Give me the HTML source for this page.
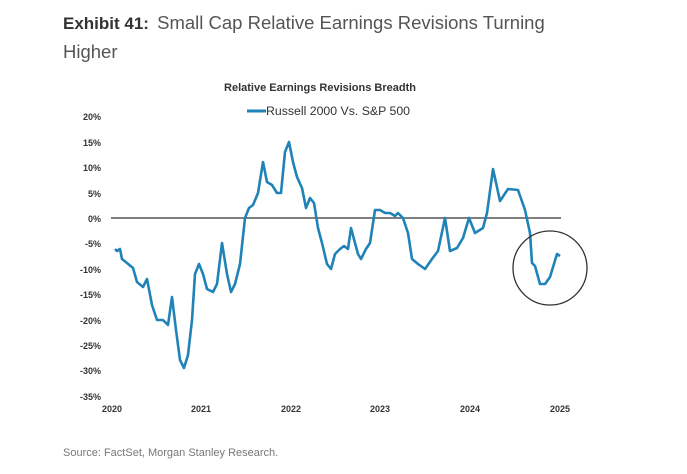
<!DOCTYPE html>
<html><head><style>
body{margin:0;width:687px;height:469px;background:#fff;font-family:"Liberation Sans",sans-serif;overflow:hidden}
</style></head><body>
<svg width="687" height="469" xmlns="http://www.w3.org/2000/svg" font-family="Liberation Sans, sans-serif">
<text x="63" y="29" font-size="17" fill="#333"><tspan font-weight="bold">Exhibit 41:</tspan><tspan fill="#555" font-size="18.5" dx="3"> Small Cap Relative Earnings Revisions Turning</tspan></text>
<text x="63" y="58" font-size="18.5" fill="#555">Higher</text>
<text x="320" y="91" font-size="11" font-weight="bold" fill="#333" text-anchor="middle">Relative Earnings Revisions Breadth</text>
<line x1="247" y1="111" x2="266" y2="111" stroke="#1f83b8" stroke-width="3"/>
<text x="266" y="115" font-size="12.3" fill="#333">Russell 2000 Vs. S&amp;P 500</text>
<g font-size="9" fill="#333" text-anchor="end" font-weight="bold">
<text x="101" y="120">20%</text><text x="101" y="146">15%</text><text x="101" y="171">10%</text><text x="101" y="197">5%</text><text x="101" y="222">0%</text><text x="101" y="247">-5%</text><text x="101" y="273">-10%</text><text x="101" y="298">-15%</text><text x="101" y="324">-20%</text><text x="101" y="349">-25%</text><text x="101" y="374">-30%</text><text x="101" y="400">-35%</text>
</g>
<g font-size="9" fill="#333" text-anchor="middle" font-weight="bold">
<text x="112" y="412">2020</text><text x="201" y="412">2021</text><text x="291" y="412">2022</text><text x="380" y="412">2023</text><text x="470" y="412">2024</text><text x="560" y="412">2025</text>
</g>
<line x1="111" y1="218" x2="561" y2="218" stroke="#555" stroke-width="1.5"/>
<polyline fill="none" stroke="#1f83b8" stroke-width="2.6" stroke-linejoin="round" points="115,249 117,251 120,249 122,259 127,263 133,268 137,282 143,287 147,279 152,305 157,320 163,320 168,325 172,297 176,330 180,360 184,368 188,355 192,320 195,274 199,264 203,274 207,289 213,292 217,284 222,243 227,274 231,292 235,284 240,264 245,218 249,208 253,205 258,193 263,162 267,182 272,185 277,193 281,193 285,152 289,142 293,162 297,177 302,188 306,208 310,198 314,203 318,228 322,243 327,264 331,269 335,254 340,249 344,246 348,249 351,228 355,243 358,254 361,259 366,249 370,243 375,210 380,210 385,213 390,213 395,216 398,213 403,218 408,233 412,259 418,264 425,269 432,259 438,251 445,218 450,251 457,248 463,238 469,218 475,233 483,228 487,213 493,169 500,201 508,189 518,190 525,210 530,233 532,263 535,266 540,284 545,284 550,277 557,254 560,256"/>
<circle cx="550" cy="268" r="37" fill="none" stroke="#333" stroke-width="1.3"/>
<text x="63" y="456" font-size="11" fill="#777">Source: FactSet, Morgan Stanley Research.</text>
</svg>
</body></html>
